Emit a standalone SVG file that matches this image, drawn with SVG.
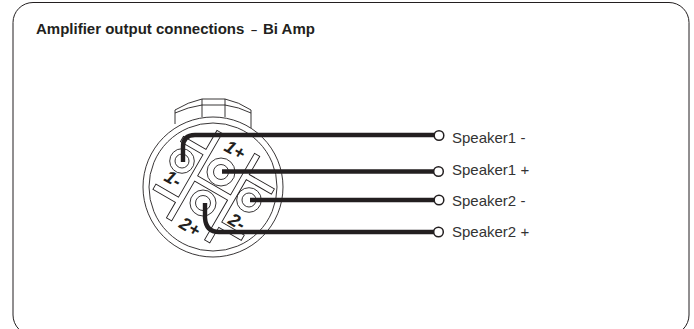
<svg xmlns="http://www.w3.org/2000/svg" width="694" height="329" viewBox="0 0 694 329">
<style>
.thin{fill:none;stroke:#231f20;stroke-width:.9}
.wire{fill:none;stroke:#231f20;stroke-width:4.400}
.end{fill:#fff;stroke:#231f20;stroke-width:1.5}
.lab{font:15px "Liberation Sans",Arial,sans-serif;fill:#333}
.pin{font:italic bold 18px "Liberation Sans",Arial,sans-serif;fill:#231f20}
.title{font:bold 15px "Liberation Sans",Arial,sans-serif;fill:#231f20}
</style>
<defs>
<path id="hash" d="M-24-48h6V1h38V-47h6V-26h29v6H26V29h26v6H26V53h-6V7H-18V53h-6V35H-50v-6H-24V-20H-50v-6h26z"/>
</defs>
<rect width="694" height="329" fill="#fff"/>
<rect id="panel" x="13" y="2.500" width="676" height="332.500" rx="20" fill="#fff" stroke="#231f20" stroke-width="1"/>
<text class="title" x="36" y="34">Amplifier output connections<tspan x="251" font-size="11">–</tspan><tspan x="263">Bi Amp</tspan></text>
<g id="connector">
<circle class="thin" cx="213" cy="187" r="70"/>
<circle class="thin" cx="213" cy="187" r="64"/>
<path class="thin" d="M175 124V110Q188 102 202 99H225Q239 102 251 110V128M175 113Q188 107 202 105H225Q239 107 251 113M202 99V117M225 99V117"/>
<use href="#hash" class="thin" transform="translate(213.750 184) rotate(30)"/>
<circle class="thin" cx="182" cy="161" r="12.300"/><circle class="thin" cx="182" cy="161" r="7"/>
<circle class="thin" cx="221" cy="172" r="14"/><circle class="thin" cx="221" cy="172" r="7.500"/>
<circle class="thin" cx="249" cy="200" r="12.300"/><circle class="thin" cx="249" cy="200" r="7"/>
<circle class="thin" cx="203" cy="203" r="13"/><circle class="thin" cx="203" cy="203" r="7.500"/>
<text class="pin" transform="translate(223 150) rotate(30)">1+</text>
<text class="pin" transform="translate(163 180) rotate(30)">1-</text>
<text class="pin" transform="translate(178 227) rotate(30)">2+</text>
<text class="pin" transform="translate(227 223) rotate(30)">2-</text>
</g>
<g id="connectors">
<path class="wire" d="M183 162V147Q183 135 195 135H437"/>
<path class="wire" d="M222 171.500H437"/>
<path class="wire" d="M250 200H437"/>
<path class="wire" d="M205 203V218Q206 232 219 232H437"/>
</g>
<g id="speaker1-minus"><circle class="end" cx="439" cy="135.500" r="4.800"/><text class="lab" x="452" y="143">Speaker1 -</text></g>
<g id="speaker1-plus"><circle class="end" cx="438.500" cy="171.500" r="4.800"/><text class="lab" x="452" y="175">Speaker1 +</text></g>
<g id="speaker2-minus"><circle class="end" cx="439" cy="200" r="4.800"/><text class="lab" x="452" y="206">Speaker2 -</text></g>
<g id="speaker2-plus"><circle class="end" cx="438.500" cy="232" r="4.800"/><text class="lab" x="452" y="237">Speaker2 +</text></g>
</svg>
